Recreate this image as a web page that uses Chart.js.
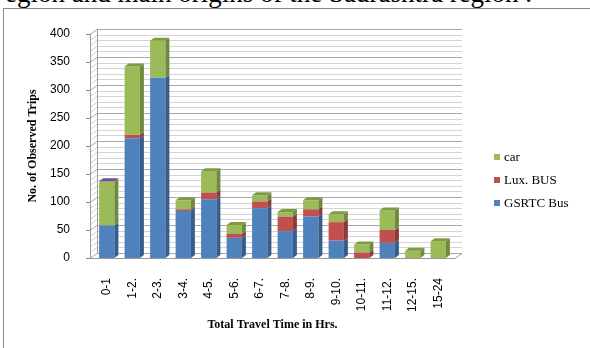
<!DOCTYPE html>
<html>
<head>
<meta charset="utf-8">
<script src="https://cdn.jsdelivr.net/npm/chart.js@4.4.1/dist/chart.umd.min.js"></script>
<style>
  body { margin: 0; background: #fff; }
  #wrap { position: relative; width: 590px; height: 348px; overflow: hidden; }
  #caption {
    position: absolute; left: 5px; top: -20px; white-space: nowrap;
    font: 27px "Liberation Serif", serif; line-height: 1; color: #000;
  }
  #frame {
    position: absolute; left: 3px; top: 8px; right: -5px; bottom: -5px;
    border-left: 1px solid #8a8a8a; border-top: 1px solid #8a8a8a;
    pointer-events: none;
  }
  canvas { position: absolute; left: 0; top: 0; }
</style>
</head>
<body>
<div id="wrap">
  <div id="caption">egion and main origins of the Saurashtra region .</div>
  <div id="frame"></div>
  <canvas id="myChart" width="590" height="348"></canvas>
</div>
<script>
const horas = ["0-1", "1-2.", "2-3.", "3-4.", "4-5.", "5-6.", "6-7.", "7-8.", "8-9.", "9-10.", "10-11.", "11-12.", "12-15.", "15-24"];
const gsrtcBus = [58, 214, 322, 84, 105, 36, 89, 48, 74, 31, 0, 27, 0, 0];
const luxBus   = [0, 6, 0, 3, 12, 7, 12, 26, 13, 33, 10, 23, 0, 0];
const car      = [78, 122, 66, 16, 38, 16, 11, 8, 16, 14, 14, 35, 13, 30];
const otro     = [1, 0, 0, 0, 0, 0, 0, 0, 0, 0, 0, 0, 0, 0];
const yTicks = [0, 50, 100, 150, 200, 250, 300, 350, 400];

// colores: frente, lado, tapa
const colores = {
  blue:   ["#4F81BD", "#385D8A", "#5B8ECF"],
  red:    ["#C0504D", "#8C3A38", "#B04845"],
  green:  ["#9BBB59", "#71893F", "#7F9A45"],
  purple: ["#8064A2", "#5F4A7A", "#6A5290"]
};

const W = 7, H = -5;     // fondo de las paredes
const BW = 4, BH = -3;   // fondo de cada barra

const paredes = {
  id: "paredes",
  beforeDatasetsDraw(chart) {
    const ctx = chart.ctx;
    const y = chart.scales.y;
    const a = chart.chartArea;
    const x0 = a.left - 4, x1 = a.right + 4;
    ctx.save();
    ctx.lineWidth = 1;
    for (let v = 0; v <= 400; v += 10) {
      const py = Math.round(y.getPixelForValue(v)) + 0.5;
      ctx.strokeStyle = v % 50 === 0 ? "#a8a8a8" : "#d4d4d4";
      ctx.beginPath();
      ctx.moveTo(x0, py);
      ctx.lineTo(x0 + W, py + H);
      ctx.lineTo(x1 + W, py + H);
      ctx.stroke();
    }
    const top = y.getPixelForValue(400), bot = y.getPixelForValue(0);
    ctx.strokeStyle = "#9a9a9a";
    ctx.beginPath();
    ctx.moveTo(x0 + 0.5, top); ctx.lineTo(x0 + 0.5, bot);
    ctx.moveTo(x0 + W + 0.5, top + H); ctx.lineTo(x0 + W + 0.5, bot + H);
    // piso
    ctx.moveTo(x0, bot + 0.5); ctx.lineTo(x1, bot + 0.5);
    ctx.lineTo(x1 + W, bot + H + 0.5);
    ctx.stroke();
    // marcas del eje y
    ctx.strokeStyle = "#8a8a8a";
    yTicks.forEach((v) => {
      const py = Math.round(y.getPixelForValue(v)) + 0.5;
      ctx.beginPath();
      ctx.moveTo(x0 - 4, py); ctx.lineTo(x0, py);
      ctx.stroke();
    });
    ctx.restore();
  },
  afterDatasetsDraw(chart) {
    const ctx = chart.ctx;
    const n = chart.data.labels.length;
    ctx.save();
    for (let i = 0; i < n; i++) {
      let arriba = null;
      chart.data.datasets.forEach((ds, d) => {
        const el = chart.getDatasetMeta(d).data[i];
        if (!ds.data[i]) return;
        const l = el.x - el.width / 2, r = el.x + el.width / 2;
        ctx.fillStyle = ds.lado;
        ctx.beginPath();
        ctx.moveTo(r, el.y);
        ctx.lineTo(r + BW, el.y + BH);
        ctx.lineTo(r + BW, el.base + BH);
        ctx.lineTo(r, el.base);
        ctx.closePath();
        ctx.fill();
        arriba = { el, ds, l, r };
      });
      if (arriba) {
        const { el, ds, l, r } = arriba;
        ctx.fillStyle = ds.tapa;
        ctx.beginPath();
        ctx.moveTo(l, el.y);
        ctx.lineTo(l + BW, el.y + BH);
        ctx.lineTo(r + BW, el.y + BH);
        ctx.lineTo(r, el.y);
        ctx.closePath();
        ctx.fill();
      }
    }
    ctx.restore();
  },
  afterDraw(chart) {
    // leyenda
    const ctx = chart.ctx;
    const items = [chart.data.datasets[2], chart.data.datasets[1], chart.data.datasets[0]];
    ctx.save();
    ctx.font = "13px 'Liberation Serif'";
    ctx.textBaseline = "middle";
    items.forEach((ds, k) => {
      const cy = 157 + k * 23;
      ctx.fillStyle = ds.backgroundColor;
      ctx.fillRect(494, cy - 3, 6, 6);
      ctx.fillStyle = "#000";
      ctx.fillText(ds.label, 504, cy + 1);
    });
    ctx.restore();
  }
};

new Chart(document.getElementById("myChart"), {
  type: "bar",
  data: {
    labels: horas,
    datasets: [
      { label: "GSRTC Bus", data: gsrtcBus, backgroundColor: colores.blue[0], lado: colores.blue[1], tapa: colores.blue[2] },
      { label: "Lux. BUS", data: luxBus, backgroundColor: colores.red[0], lado: colores.red[1], tapa: colores.red[2] },
      { label: "car", data: car, backgroundColor: colores.green[0], lado: colores.green[1], tapa: colores.green[2] },
      { label: "otro", data: otro, backgroundColor: colores.purple[0], lado: colores.purple[1], tapa: colores.purple[2] },
    ],
  },
  options: {
    responsive: false,
    animation: false,
    layout: { padding: { left: 0, right: 139, top: 34, bottom: 0 } },
    datasets: { bar: { categoryPercentage: 1, barPercentage: 0.6 } },
    plugins: { legend: { display: false }, tooltip: { enabled: false } },
    scales: {
      x: {
        stacked: true,
        grid: { display: false },
        border: { display: false },
        ticks: { minRotation: 90, maxRotation: 90, padding: 12, color: "#000", font: { family: "Liberation Sans", size: 12 } },
        title: { display: true, text: "Total Travel Time in Hrs.", color: "#000", padding: { top: 0, bottom: 16 }, font: { family: "Liberation Serif", size: 12, weight: "bold" } },
        afterFit: (s) => { s.height = 90; },
      },
      y: {
        stacked: true,
        min: 0,
        max: 400,
        grid: { display: false },
        border: { display: false },
        ticks: { stepSize: 50, padding: 16, color: "#000", font: { family: "Liberation Sans", size: 12 } },
        title: { display: true, text: "No. of Observed Trips", color: "#000", padding: { top: 26, bottom: 0 }, font: { family: "Liberation Serif", size: 12, weight: "bold" } },
        afterFit: (s) => { s.width = 94; },
      },
    },
  },
  plugins: [paredes],
});
</script>
</body>
</html>
